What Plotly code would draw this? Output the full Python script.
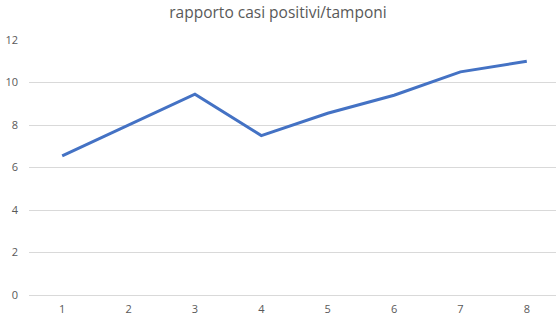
import plotly.graph_objects as go

x_vals = [1, 2, 3, 4, 5, 6, 7, 8]
y_vals = [6.55, 8.0, 9.45, 7.5, 8.55, 9.4, 10.5, 11.0]
y_ticks = [0, 2, 4, 6, 8, 10, 12]
title_text = "rapporto casi positivi/tamponi"

fig = go.Figure()
fig.add_trace(go.Scatter(
    x=x_vals, y=y_vals, mode="lines",
    line=dict(color="#4472C4", width=3),
    hoverinfo="skip",
))

font_family = "Open Sans, Noto Sans, sans-serif"
fig.update_layout(
    width=556, height=321,
    margin=dict(l=29, r=0, t=39.5, b=26),
    paper_bgcolor="white", plot_bgcolor="white",
    showlegend=False,
    title=dict(text=title_text, x=0.5, xanchor="center", y=1 - 13/321, yanchor="middle",
               font=dict(family=font_family, size=15.5, color="#595959")),
    xaxis=dict(range=[0.5, 8.44], tickmode="array", tickvals=x_vals,
               ticktext=[str(v) for v in x_vals], showgrid=False, zeroline=False,
               showline=False, ticks="", ticklabelstandoff=6,
               tickfont=dict(family=font_family, size=11, color="#595959")),
    yaxis=dict(range=[0, 12], tickmode="array", tickvals=y_ticks,
               showgrid=True, gridcolor="#d9d9d9", gridwidth=1,
               zeroline=True, zerolinecolor="#d9d9d9", zerolinewidth=1,
               showline=False, ticks="", ticklabelstandoff=10,
               tickfont=dict(family=font_family, size=11, color="#595959")),
)

fig.write_html("out.html")
